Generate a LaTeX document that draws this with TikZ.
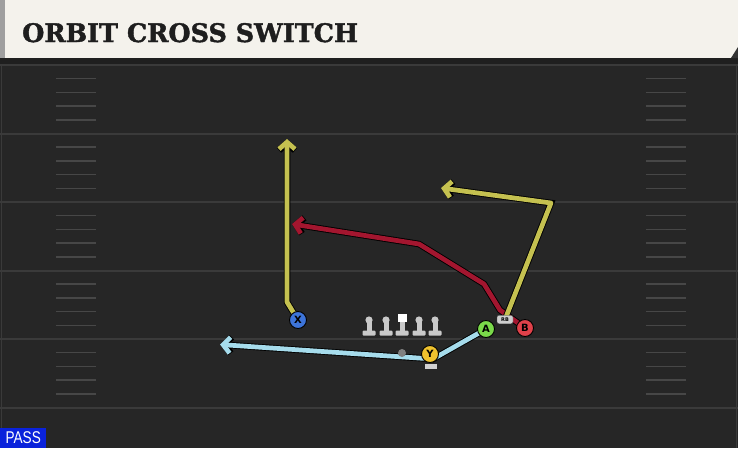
\documentclass[tikz,border=0pt]{standalone}
\usepackage{fontspec}
\usetikzlibrary{arrows.meta,backgrounds}
\newfontfamily\titlefont[BoldFeatures={FakeBold=1.6}]{DejaVu Serif}
\newfontfamily\markfont{DejaVu Sans}
\newfontfamily\tagfont{Liberation Sans}
\definecolor{cream}{HTML}{F4F2EC}
\definecolor{turf}{HTML}{262626}
\definecolor{turfline}{HTML}{3A3A3A}
\definecolor{hashgray}{HTML}{474747}
\definecolor{inkgray}{HTML}{1E1E1E}
\definecolor{olgray}{HTML}{C9C9C9}
\definecolor{xblue}{HTML}{3D74D9}
\definecolor{yyellow}{HTML}{EFC22E}
\definecolor{agreen}{HTML}{7AD94A}
\definecolor{bred}{HTML}{E0414A}
\definecolor{olive}{HTML}{C5C150}
\definecolor{maroon}{HTML}{A3162F}
\definecolor{skyline}{HTML}{A6DCEC}
\definecolor{passblue}{HTML}{0A22DB}
\tikzset{
  player/.style={circle, draw=black, line width=0.9pt, minimum size=17pt, inner sep=0pt,
    font=\markfont\bfseries\fontsize{10}{10}\selectfont},
  route/.style={line width=4.7pt, line join=round, line cap=round,
    -{Straight Barb[length=7pt,width=16pt]},
    preaction={draw=black, line width=6.5pt}},
  hash/.style={hashgray, line width=1.5pt},
  yard/.style={turfline, line width=2pt},
}

\begin{document}
\begin{tikzpicture}[x=1pt,y=-1pt]
			%%%%% START %%%%%
			\useasboundingbox (0,0) rectangle (738,448);
			
			% field
			\begin{scope}[on background layer]
				\fill[turf] (0,58) rectangle (738,448);
				\fill[black!88] (0,58) rectangle (738,64);
				\draw[turfline, line width=1.5pt] (1.5,64) -- (1.5,448);
				\draw[turfline, line width=1.5pt] (736.5,64) -- (736.5,448);
				\foreach \yl in {65,133.5,202,270.5,339,407.5}
					\draw[yard] (0,\yl) -- (738,\yl);
				\foreach \yl in {65,133.5,202,270.5,339}
					\foreach \k in {1,...,4} {
						\draw[hash] (56,{\yl+\k*13.7}) -- (96,{\yl+\k*13.7});
						\draw[hash] (646,{\yl+\k*13.7}) -- (686,{\yl+\k*13.7});
					}
			\end{scope}
			
			% header
			\fill[cream] (0,0) rectangle (738,58);
			\fill[gray!75] (0,0) rectangle (4.5,58);
			\fill[black!80] (738,47) -- (738,58) -- (731,58) -- cycle;
			\node[anchor=base west, inner sep=0pt, text=inkgray,
				font=\titlefont\bfseries\fontsize{25.5}{25.5}\selectfont] (title) at (22,42) {ORBIT CROSS SWITCH};
			
			\node[fill=passblue, text=white, anchor=south west, minimum width=46pt, minimum height=20pt,
				inner sep=0pt, font=\tagfont\fontsize{17}{17}\selectfont] (playtype) at (0,448) {\scalebox{0.8}[1]{PASS}};
			
			% line
			\foreach \x in {369,386,419,435} {
				\draw[olgray, line width=5pt] (\x,320) -- (\x,332);
				\fill[olgray] (\x,320) circle (3.6pt);
				\fill[olgray, rounded corners=1pt] (\x-6.5,330.5) rectangle (\x+6.5,335.5);
			}
			\draw[olgray, line width=5pt] (402,320) -- (402,332);
			\fill[white] (397.5,313.5) rectangle (406.5,322);
			\fill[olgray, rounded corners=1pt] (395.5,330.5) rectangle (408.5,335.5);
			\fill[black!50] (402,353) circle (4pt);
			\fill[olgray!85] (425,364) rectangle (437,368.5);
			
			% skill players
			\node[player, fill=xblue] (X) at (298,320) {X};
			\node[player, fill=yyellow] (Y) at (430,354) {Y};
			\node[player, fill=agreen] (A) at (486,329) {A};
			\node[player, fill=bred] (B) at (525,328) {B};
			\node[draw=black!70, fill=olgray!90, rounded corners=2pt, minimum width=16pt, minimum height=8.5pt,
				inner sep=0pt, font=\markfont\bfseries\fontsize{5}{5}\selectfont] (RB) at (505,319.5) {RB};
			
			% routes
			\coordinate (xbend) at (287,302);
			\coordinate (xend) at (287,139);
			\coordinate (bcut) at (500,310);
			\coordinate (bbend) at (484,284);
			\coordinate (bbreak) at (419,244);
			\coordinate (bend) at (292,224);
			\coordinate (rbpost) at (551,203);
			\coordinate (rbend) at (441,188);
			\coordinate (ymot) at (433,359);
			\coordinate (yend) at (220,344.5);
			\begin{scope}[on background layer]
				\draw[route, olive] (X.center) -- (xbend) -- (xend);
				\draw[route, maroon] (B.center) -- (bcut) -- (bbend) -- (bbreak) -- (bend);
				\draw[route, olive] (RB.center) -- (rbpost) -- (rbend);
				\draw[route, skyline] (A.center) -- (ymot) -- (yend);
			\end{scope}
			%%%%% END %%%%%
\end{tikzpicture}
\end{document}
